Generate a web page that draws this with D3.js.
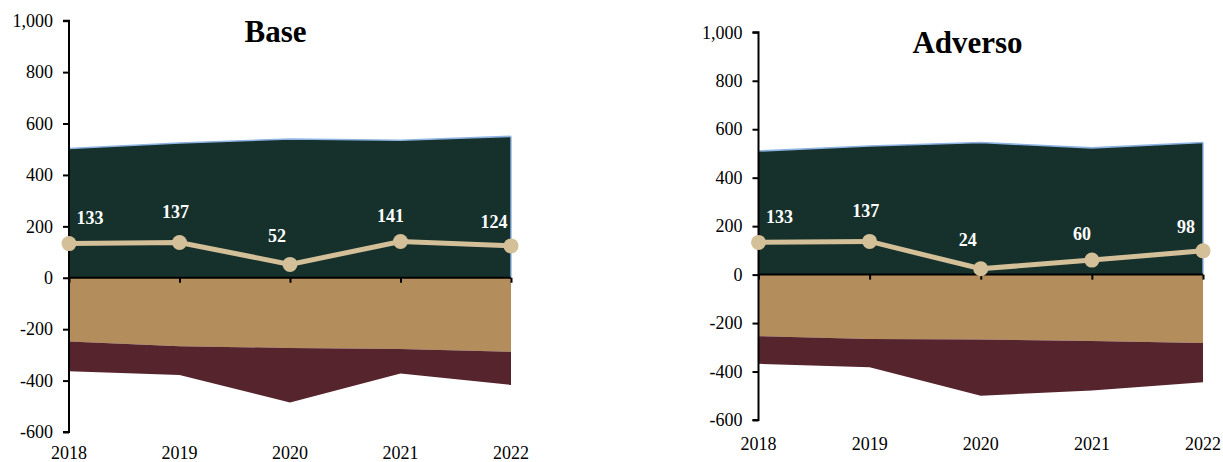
<!DOCTYPE html>
<html><head><meta charset="utf-8">
<script src="https://cdn.jsdelivr.net/npm/d3@7"></script>
<style>body{margin:0;background:#fff}svg{display:block}</style>
</head><body>
<svg id="c" width="1223" height="462"></svg>
<script>
const years = ["2018","2019","2020","2021","2022"];
const yTicks = [1000,800,600,400,200,0,-200,-400,-600];
// Base scenario
const baseGreen = [503, 524, 540, 535, 550];
const baseTan   = [-248, -266, -273, -277, -288];
const baseRed   = [-116, -112, -212, -95, -129];
const baseLine  = [133, 137, 52, 141, 124];
// Adverse scenario
const advGreen = [510, 531, 545, 523, 545];
const advTan   = [-254, -266, -268, -274, -282];
const advRed   = [-114, -116, -232, -204, -162];
const advLine  = [133, 137, 24, 60, 98];

const panels = [
  {title:"Base", green:baseGreen, tan:baseTan, red:baseRed, line:baseLine,
   x0:69, x1:511, yTop:20.7, yBot:432, titleX:275.5, titleY:42, yrOff:27},
  {title:"Adverso", green:advGreen, tan:advTan, red:advRed, line:advLine,
   x0:758.5, x1:1203, yTop:32.3, yBot:420, titleX:967.5, titleY:53, yrOff:30}
];
// label offsets (styling) relative to each point
const lblDx = [21, -4, -13, -10, -17];
const lblDy = [-26, -31, -29, -26, -24];

const svg = d3.select("#c");
const font = "'Liberation Serif','Times New Roman',serif";
const fmt = d => d3.format(",")(d).replace("\u2212", "-");

panels.forEach(p => {
  const g = svg.append("g");
  const x = d3.scalePoint().domain(years).range([p.x0, p.x1]);
  const y = d3.scaleLinear().domain([-600, 1000]).range([p.yBot, p.yTop]);

  const rows = years.map((yr, i) => ({yr, green:p.green[i], tan:p.tan[i], red:p.tan[i] + p.red[i], line:p.line[i]}));

  const area = (lo, hi) => d3.area().x(d => x(d.yr)).y0(d => y(lo(d))).y1(d => y(hi(d)));
  g.append("path").datum(rows).attr("d", area(d => 0, d => d.green)).attr("fill", "#16312C");
  g.append("path").datum(rows).attr("d", area(d => 0, d => d.tan)).attr("fill", "#B38D5C");
  g.append("path").datum(rows).attr("d", area(d => d.tan, d => d.red)).attr("fill", "#56242D");

  // light blue outline on top of green area and right edge
  const topLine = d3.line().x(d => x(d.yr)).y(d => y(d.green));
  g.append("path").datum(rows).attr("d", topLine).attr("fill", "none")
    .attr("stroke", "#8DB3E2").attr("stroke-width", 1.6);
  g.append("line").attr("x1", x(years[4])).attr("x2", x(years[4]))
    .attr("y1", y(p.green[4])).attr("y2", y(0))
    .attr("stroke", "#8DB3E2").attr("stroke-width", 1.4);

  // y axis
  const yAxis = d3.axisLeft(y).tickValues(yTicks).tickSize(6).tickPadding(10).tickFormat(fmt);
  const ya = g.append("g").attr("transform", `translate(${p.x0},0)`).call(yAxis);
  ya.select(".domain").attr("stroke", "#000").attr("stroke-width", 2).attr("d", `M-6,${y(1000)}H0V${y(-600)}H-6`);
  ya.selectAll(".tick line").attr("stroke", "#000").attr("stroke-width", 2);
  ya.selectAll("text").attr("font-family", font).attr("font-size", 18).attr("fill", "#000");

  // x axis at zero
  const xAxis = d3.axisBottom(x).tickSize(5).tickFormat("");
  const xa = g.append("g").attr("transform", `translate(0,${y(0)})`).call(xAxis);
  xa.select(".domain").attr("stroke", "#000").attr("stroke-width", 2).attr("d", `M${p.x0},0H${p.x1}`);
  xa.selectAll(".tick line").attr("stroke", "#000").attr("stroke-width", 2);

  // year labels at bottom
  g.selectAll("text.yr").data(years).join("text").attr("class", "yr")
    .attr("x", d => x(d)).attr("y", y(-600) + p.yrOff)
    .attr("text-anchor", "middle").attr("font-family", font).attr("font-size", 18)
    .text(d => d);

  // line series
  const ln = d3.line().x(d => x(d.yr)).y(d => y(d.line));
  g.append("path").datum(rows).attr("d", ln).attr("fill", "none")
    .attr("stroke", "#D3BF98").attr("stroke-width", 5);
  g.selectAll("circle").data(rows).join("circle")
    .attr("cx", d => x(d.yr)).attr("cy", d => y(d.line)).attr("r", 7.5).attr("fill", "#D3BF98");

  // data labels
  g.selectAll("text.lbl").data(rows).join("text").attr("class", "lbl")
    .attr("x", (d, i) => x(d.yr) + lblDx[i])
    .attr("y", (d, i) => y(d.line) + lblDy[i]).attr("dy", "0.35em")
    .attr("text-anchor", "middle").attr("font-family", font).attr("font-size", 18)
    .attr("font-weight", "bold").attr("fill", "#fff")
    .text(d => d.line);

  // title
  g.append("text").attr("x", p.titleX).attr("y", p.titleY).attr("text-anchor", "middle")
    .attr("font-family", font).attr("font-size", 31).attr("font-weight", "bold").text(p.title);
});
</script>
</body></html>
